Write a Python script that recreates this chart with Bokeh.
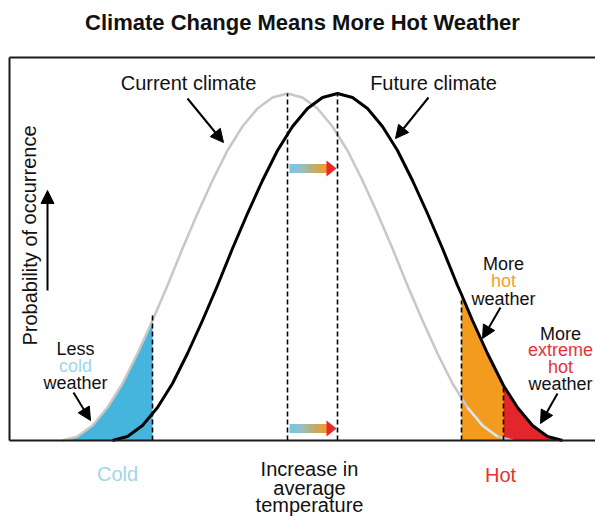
from bokeh.plotting import figure
from bokeh.models import Range1d, Arrow, NormalHead
from bokeh.core.properties import value
from bokeh.embed import file_html
from bokeh.resources import INLINE

# ---- data (temperature axis, relative frequency) ----
current_temp = [62, 77, 92, 107, 122, 137, 152, 167, 182, 197, 212, 227, 242, 257, 272, 287,
                302, 317, 332, 347, 362, 377, 392, 407, 422, 437, 452, 467, 482, 497, 512]
current_freq = [0, 4, 15, 33, 57, 87, 120, 155, 192, 227, 260, 290, 314, 332, 343, 347,
                343, 332, 314, 290, 260, 227, 192, 155, 120, 87, 57, 33, 15, 4, 0]

future_temp = [112, 127, 142, 157, 172, 187, 202, 217, 232, 247, 262, 277, 292, 307, 322, 337,
               352, 367, 382, 397, 412, 427, 442, 457, 461, 472, 487, 503, 517, 532, 547, 562]
future_freq = [0, 4, 15, 33, 57, 87, 120, 155, 192, 227, 260, 290, 314, 332, 343, 347,
               343, 332, 314, 290, 260, 227, 192, 155, 146, 120, 87, 55, 33, 15, 4, 0]

cold_limit = 152
hot_limit = 461
extreme_limit = 503

marker_temp = [152, 287, 337, 461, 503]
marker_top = [128, 347, 348, 140, 55]

current_mean = 287
future_mean = 337

FONT = value("Liberation Sans")
BLUE = "#45b5de"
ORANGE = "#f29b1f"
RED = "#e2262b"

p = figure(width=595, height=516, output_backend="svg", toolbar_location=None,
           x_range=Range1d(0, 595), y_range=Range1d(-76, 440),
           x_axis_location=None, y_axis_location=None, min_border=0)
p.grid.visible = False
p.outline_line_color = None
p.background_fill_color = "white"
p.border_fill_color = "white"

# shaded areas
cx = [x for x in current_temp if x <= cold_limit]
cy = [y for x, y in zip(current_temp, current_freq) if x <= cold_limit]
p.varea(x=cx, y1=[0] * len(cx), y2=cy, fill_color=BLUE)

hx = [x for x in future_temp if hot_limit <= x <= extreme_limit]
hy = [y for x, y in zip(future_temp, future_freq) if hot_limit <= x <= extreme_limit]
p.varea(x=hx, y1=[0] * len(hx), y2=hy, fill_color=ORANGE)

ex = [x for x in future_temp if x >= extreme_limit]
ey = [y for x, y in zip(future_temp, future_freq) if x >= extreme_limit]
p.varea(x=ex, y1=[0] * len(ex), y2=ey, fill_color=RED)

# curves
p.line(current_temp, current_freq, line_color="#cbc6c3", line_width=2.5, line_join="round")
gx = [x for x in current_temp if hot_limit <= x <= extreme_limit]
gy = [y for x, y in zip(current_temp, current_freq) if hot_limit <= x <= extreme_limit]
p.line(gx, gy, line_color="#dfe6ea", line_width=2.5)
p.line(future_temp, future_freq, line_color="black", line_width=3, line_join="round")

# dashed markers
p.segment(x0=marker_temp, y0=[0] * len(marker_temp), x1=marker_temp, y1=marker_top,
          line_color="black", line_width=1.6, line_dash="5 3")

# frame: left border, top border, baseline
p.segment(x0=[9, 9, 9], y0=[0, 383, 0], x1=[9, 600, 600], y1=[383, 383, 0],
          line_color="#1a1a1a", line_width=2)

# gradient shift arrows
grad = ["#7cc4de", "#8ac2cf", "#a0bca6", "#b9b07a", "#d2a652", "#e9a030"]
for yc in (272, 12):
    x0 = current_mean + 2
    x1 = future_mean - 10
    step = (x1 - x0) / len(grad)
    p.quad(left=[x0 + i * step for i in range(len(grad))],
           right=[x0 + (i + 1) * step + 0.5 for i in range(len(grad))],
           bottom=[yc - 4.5] * len(grad), top=[yc + 4.5] * len(grad),
           fill_color=grad, line_color=None)
    p.patch(x=[x1 - 1, future_mean - 1, x1 - 1], y=[yc + 8, yc, yc - 8],
            fill_color="#e8282a", line_color=None)

# black pointer arrows
def arrow(xs, ys, xe, ye):
    p.add_layout(Arrow(end=NormalHead(size=13, fill_color="black", line_color="black"),
                       x_start=xs, y_start=ys, x_end=xe, y_end=ye,
                       line_color="black", line_width=2))

arrow(187, 342, 223, 298)
arrow(428, 343, 395, 302)
arrow(73, 48, 90, 20)
arrow(500, 133, 482, 102)
arrow(557, 47, 540, 17)
arrow(47, 150, 47, 250)

def txt(x, y, s, color="#111111", size="20px", bold=False, angle=0):
    p.text(x=[x], y=[y], text=[s], text_font=FONT, text_font_size=size,
           text_color=color, text_align="center", text_baseline="middle",
           text_font_style="bold" if bold else "normal", angle=angle)

txt(302, 418, "Climate Change Means More Hot Weather", size="22px", bold=True)
txt(188, 358, "Current climate")
txt(433, 358, "Future climate")
txt(29, 205, "Probability of occurrence", angle=1.5708)

txt(75, 92, "Less", size="18px")
txt(75, 75, "cold", color="#9fd6ea", size="18px")
txt(75, 58, "weather", size="18px")

txt(503, 177, "More", size="18px")
txt(503, 160, "hot", color="#f0a030", size="18px")
txt(503, 142, "weather", size="18px")

txt(560, 107, "More", size="18px")
txt(560, 91, "extreme", color="#e8323a", size="18px")
txt(560, 74, "hot", color="#e8323a", size="18px")
txt(560, 57, "weather", size="18px")

txt(117, -33, "Cold", color="#9fd6ea")
txt(500, -34, "Hot", color="#e5332a")
txt(309, -28, "Increase in")
txt(309, -47, "average")
txt(309, -64, "temperature")

open("out.html", "w").write(file_html(p, INLINE))
